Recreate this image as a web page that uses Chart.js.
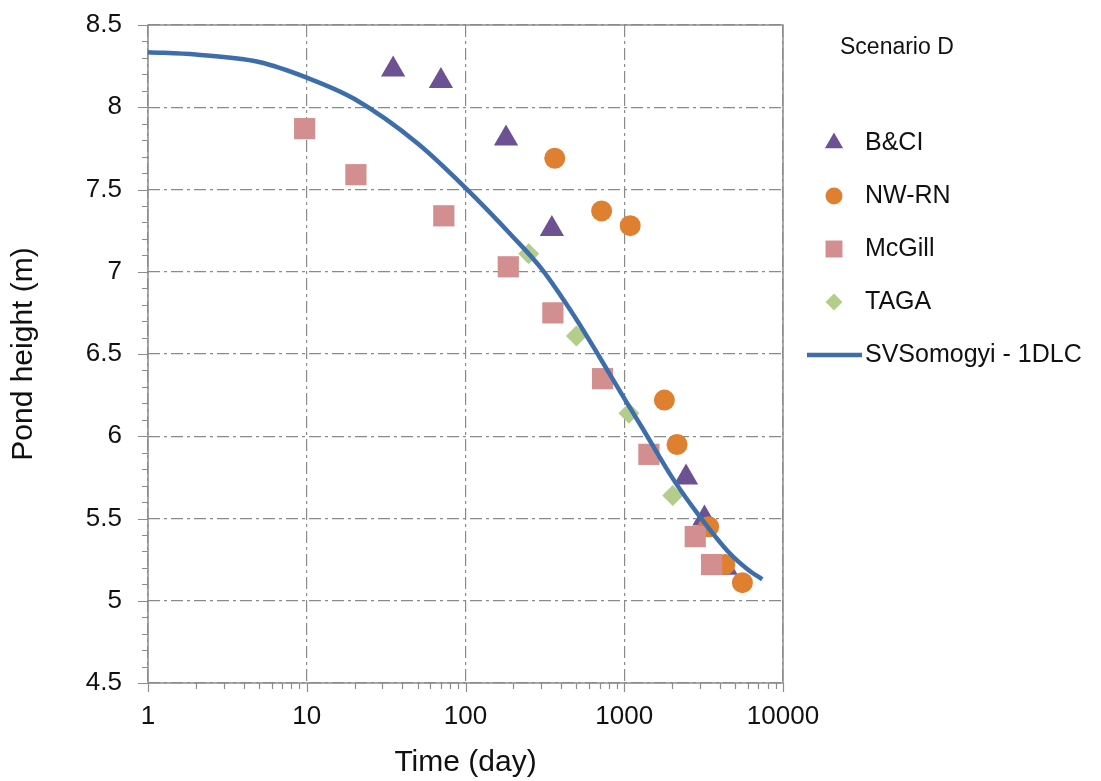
<!DOCTYPE html>
<html>
<head>
<meta charset="utf-8">
<title>Scenario D - pond height</title>
<script src="https://cdn.jsdelivr.net/npm/chart.js@4.4.1/dist/chart.umd.min.js"></script>
<style>
    html, body { margin: 0; padding: 0; background: #ffffff; }
    #wrap { width: 1101px; height: 781px; }
</style>
</head>
<body>
<div id="wrap"><canvas id="pondChart" width="1101" height="781"></canvas></div>
<script>
// measured pond heights (m) against elapsed time (day)
const bciTime = [35, 70, 180, 350, 2450, 3200, 4350];
const bciHeight = [8.23, 8.16, 7.81, 7.26, 5.75, 5.50, 5.20];

const nwrnTime = [365, 720, 1090, 1790, 2150, 3400, 4300, 5550];
const nwrnHeight = [7.69, 7.37, 7.28, 6.22, 5.95, 5.45, 5.22, 5.11];

const mcgillTime = [9.7, 20.4, 73, 186, 355, 730, 1430, 2800, 3550];
const mcgillHeight = [7.87, 7.59, 7.34, 7.03, 6.75, 6.35, 5.89, 5.39, 5.22];

const tagaTime = [250, 500, 1070, 2020];
const tagaHeight = [7.11, 6.61, 6.14, 5.64];

// SVSomogyi - 1DLC model curve
const curveTime = [1, 2, 5, 10, 20, 50, 100, 200, 300, 500, 700, 1000, 1300, 2000, 3000, 4600, 6000, 7400];
const curveHeight = [8.335, 8.32, 8.275, 8.18, 8.05, 7.78, 7.51, 7.21, 7.02, 6.71, 6.48, 6.23, 6.05, 5.75, 5.51, 5.29, 5.19, 5.13];

const timeDecades = [1, 10, 100, 1000, 10000];
const heightLabels = [4.5, 5, 5.5, 6, 6.5, 7, 7.5, 8, 8.5];
const seriesNames = ["B&CI", "NW-RN", "McGill", "TAGA", "SVSomogyi - 1DLC"];
const panelTitle = "Scenario D";

const FONT = "'Liberation Sans', Arial, sans-serif";
const AXIS_GREY = "#8c8c8c";
const GRID_GREY = "#8a8a8a";

function toPoints(xs, ys) {
    return xs.map((x, i) => ({ x: x, y: ys[i] }));
}

// every 1..9 step inside each decade, used for the small tick marks
function timeTickValues() {
    const values = [];
    for (let d = 0; d < timeDecades.length - 1; d++) {
        for (let k = 1; k < 10; k++) {
            values.push(k * timeDecades[d]);
        }
    }
    values.push(timeDecades[timeDecades.length - 1]);
    return values;
}

function heightTickValues() {
    const lo = heightLabels[0];
    const hi = heightLabels[heightLabels.length - 1];
    const values = [];
    for (let i = 0; i <= Math.round((hi - lo) * 10); i++) {
        values.push(Math.round((lo + i * 0.1) * 10) / 10);
    }
    return values;
}

const isDecade = (v) => timeDecades.some((d) => Math.abs(d - v) < 1e-9);
const isHeightLabel = (v) => heightLabels.some((h) => Math.abs(h - v) < 1e-9);

const series = [
    { name: seriesNames[0], xs: bciTime, ys: bciHeight, style: "triangle", color: "#6c5193", radius: 14, legendRadius: 10.5, order: 4 },
    { name: seriesNames[1], xs: nwrnTime, ys: nwrnHeight, style: "circle", color: "#df7f30", radius: 10.5, legendRadius: 8.5, order: 3 },
    { name: seriesNames[2], xs: mcgillTime, ys: mcgillHeight, style: "rect", color: "#d38f8f", radius: 15, legendRadius: 12, order: 2 },
    { name: seriesNames[3], xs: tagaTime, ys: tagaHeight, style: "rectRot", color: "#b3cd8b", radius: 10.5, legendRadius: 8.5, order: 1 }
];

const datasets = series.map((s) => ({
    type: "scatter",
    label: s.name,
    data: toPoints(s.xs, s.ys),
    pointStyle: s.style,
    pointRadius: s.radius,
    pointBackgroundColor: s.color,
    pointBorderColor: s.color,
    pointBorderWidth: 0,
    legendRadius: s.legendRadius,
    order: s.order
}));

datasets.push({
    type: "line",
    label: seriesNames[4],
    data: toPoints(curveTime, curveHeight),
    borderColor: "#3e6ea9",
    borderWidth: 4.5,
    pointRadius: 0,
    fill: false,
    cubicInterpolationMode: "monotone",
    order: 0
});

// plot frame, tick marks and the side legend
const framePlugin = {
    id: "frame",
    beforeDatasetsDraw(chart) {
        const { ctx, chartArea: a, scales } = chart;
        ctx.save();
        ctx.strokeStyle = AXIS_GREY;
        ctx.lineWidth = 1.5;
        ctx.strokeRect(a.left, a.top, a.right - a.left, a.bottom - a.top);

        ctx.lineWidth = 1.2;
        ctx.beginPath();
        scales.x.ticks.forEach((t) => {
            const px = Math.round(scales.x.getPixelForValue(t.value)) + 0.5;
            const len = isDecade(t.value) ? 9 : 6;
            ctx.moveTo(px, a.bottom);
            ctx.lineTo(px, a.bottom + len);
        });
        scales.y.ticks.forEach((t) => {
            const py = Math.round(scales.y.getPixelForValue(t.value)) + 0.5;
            const len = isHeightLabel(t.value) ? 10 : 6;
            ctx.moveTo(a.left - len, py);
            ctx.lineTo(a.left, py);
        });
        ctx.stroke();
        ctx.restore();
    },
    afterDraw(chart) {
        const { ctx } = chart;
        const markX = 834;
        const textX = 865;
        const firstY = 143;
        const step = 53;

        ctx.save();
        ctx.fillStyle = "#111111";
        ctx.textBaseline = "middle";
        ctx.textAlign = "left";
        ctx.font = `23px ${FONT}`;
        ctx.fillText(panelTitle, 840, 48);

        ctx.font = `25px ${FONT}`;
        chart.data.datasets.forEach((ds, i) => {
            const cy = firstY + i * step;
            if (ds.type === "line") {
                ctx.strokeStyle = ds.borderColor;
                ctx.lineWidth = ds.borderWidth;
                ctx.beginPath();
                ctx.moveTo(807, cy);
                ctx.lineTo(862, cy);
                ctx.stroke();
            } else {
                ctx.fillStyle = ds.pointBackgroundColor;
                Chart.helpers.drawPoint(ctx, {
                    pointStyle: ds.pointStyle,
                    radius: ds.legendRadius,
                    rotation: 0,
                    borderWidth: 0
                }, markX, cy);
            }
            ctx.fillStyle = "#111111";
            ctx.fillText(ds.label, textX, cy);
        });
        ctx.restore();
    }
};

const gridDash = [12, 4, 3, 4];

new Chart(document.getElementById("pondChart"), {
    type: "scatter",
    data: { datasets: datasets },
    options: {
        responsive: false,
        devicePixelRatio: 1,
        animation: false,
        events: [],
        layout: { padding: { top: 25, right: 318, bottom: 0, left: 0 } },
        plugins: {
            legend: { display: false },
            tooltip: { enabled: false }
        },
        scales: {
            x: {
                type: "logarithmic",
                min: timeDecades[0],
                max: timeDecades[timeDecades.length - 1],
                afterBuildTicks: (axis) => {
                    axis.ticks = timeTickValues().map((v) => ({ value: v }));
                },
                afterFit: (axis) => {
                    axis.height = 98;
                    axis.paddingLeft = 0;
                    axis.paddingRight = 0;
                },
                ticks: {
                    autoSkip: false,
                    maxRotation: 0,
                    padding: 18,
                    color: "#111111",
                    font: { family: FONT, size: 26 },
                    callback: (value) => (isDecade(value) ? String(value) : "")
                },
                grid: {
                    drawTicks: false,
                    lineWidth: 1.2,
                    borderDash: gridDash,
                    color: (ctx) => (ctx.tick && isDecade(ctx.tick.value) ? GRID_GREY : "rgba(0,0,0,0)")
                },
                border: { display: false, dash: gridDash },
                title: {
                    display: true,
                    text: "Time (day)",
                    color: "#111111",
                    font: { family: FONT, size: 30 },
                    padding: { top: 0, bottom: 0 }
                }
            },
            y: {
                type: "linear",
                min: heightLabels[0],
                max: heightLabels[heightLabels.length - 1],
                afterBuildTicks: (axis) => {
                    axis.ticks = heightTickValues().map((v) => ({ value: v }));
                },
                afterFit: (axis) => {
                    axis.width = 148;
                    axis.paddingTop = 0;
                    axis.paddingBottom = 0;
                },
                ticks: {
                    autoSkip: false,
                    padding: 26,
                    color: "#111111",
                    font: { family: FONT, size: 26 },
                    callback: (value) => (isHeightLabel(value) ? String(Math.round(value * 10) / 10) : "")
                },
                grid: {
                    drawTicks: false,
                    lineWidth: 1.2,
                    borderDash: gridDash,
                    color: (ctx) => (ctx.tick && isHeightLabel(ctx.tick.value) ? GRID_GREY : "rgba(0,0,0,0)")
                },
                border: { display: false, dash: gridDash },
                title: {
                    display: true,
                    text: "Pond height (m)",
                    color: "#111111",
                    font: { family: FONT, size: 30 },
                    padding: { top: 6, bottom: 0 }
                }
            }
        }
    },
    plugins: [framePlugin]
});
</script>
</body>
</html>
